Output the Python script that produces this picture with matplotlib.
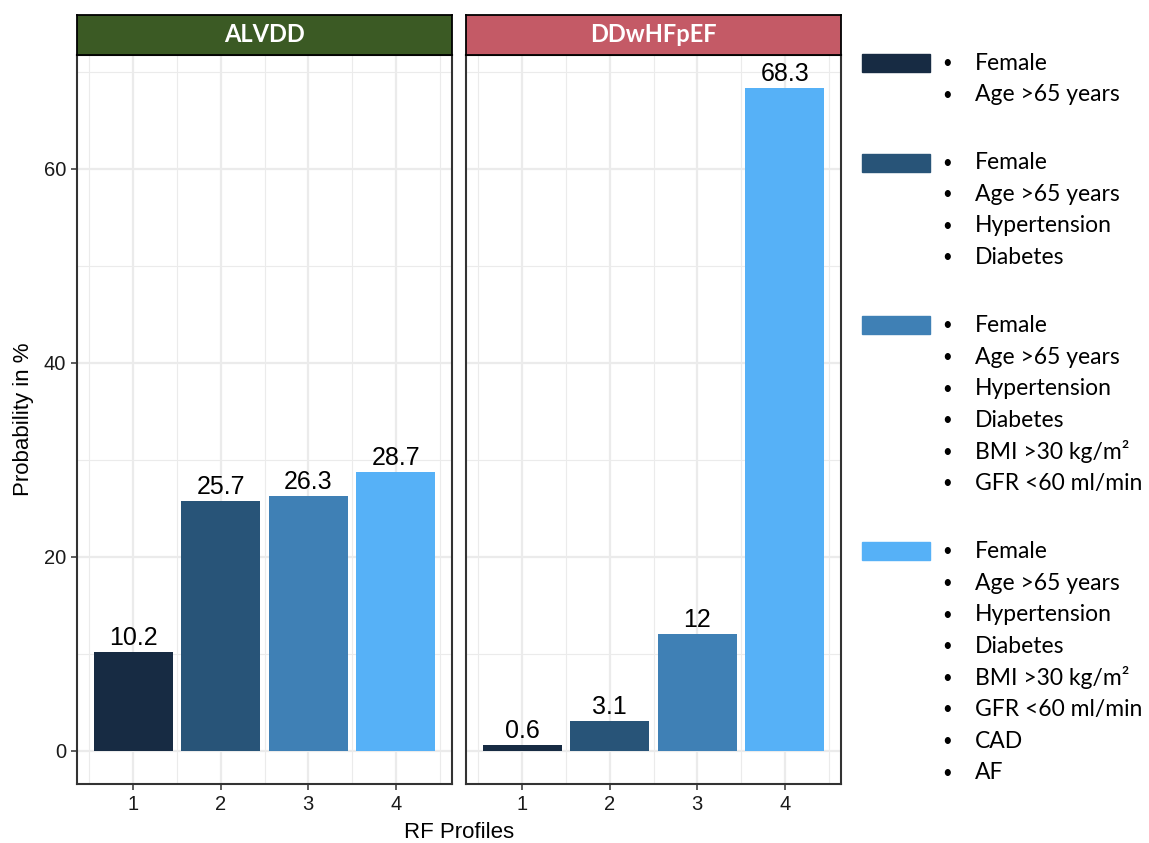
import matplotlib
matplotlib.use("Agg")
import matplotlib.pyplot as plt
from matplotlib.patches import Rectangle

# data
panels = ["ALVDD", "DDwHFpEF"]
strip_colors = ["#3B5A24", "#C45A66"]
profiles = [1, 2, 3, 4]
alvdd = [10.2, 25.7, 26.3, 28.7]
ddwhfpef = [0.6, 3.1, 12, 68.3]
alvdd_labels = ["10.2", "25.7", "26.3", "28.7"]
ddwhfpef_labels = ["0.6", "3.1", "12", "68.3"]
bar_colors = ["#172B43", "#285478", "#3F80B5", "#56B1F7"]
legend_items = [
    ["Female", "Age >65 years"],
    ["Female", "Age >65 years", "Hypertension", "Diabetes"],
    ["Female", "Age >65 years", "Hypertension", "Diabetes",
     "BMI >30 kg/m²", "GFR <60 ml/min"],
    ["Female", "Age >65 years", "Hypertension", "Diabetes",
     "BMI >30 kg/m²", "GFR <60 ml/min", "CAD", "AF"],
]

W, H = 1149, 843
fig = plt.figure(figsize=(W / 100, H / 100), dpi=100)

def fx(px):
    return px / W

def fy(py):
    return 1 - py / H

ymax = max(alvdd + ddwhfpef)
ylim = (-0.05 * ymax, ymax * 1.05)

panel_left = [77, 466]
panel_w = 375
top, bottom = 55, 784
values = [alvdd, ddwhfpef]
labels = [alvdd_labels, ddwhfpef_labels]

for i, name in enumerate(panels):
    ax = fig.add_axes([fx(panel_left[i]), fy(bottom), fx(panel_w), (bottom - top) / H])
    ax.bar(profiles, values[i], width=0.9, color=bar_colors, zorder=3)
    for x, v, lab in zip(profiles, values[i], labels[i]):
        ax.annotate(lab, (x, v), xytext=(0, 1.5), textcoords="offset points",
                    ha="center", va="bottom", fontsize=18,
                    family="Liberation Sans", color="black", zorder=4)
    ax.set_xlim(0.36, 4.64)
    ax.set_ylim(*ylim)
    ax.set_xticks(profiles)
    ax.set_xticks([0.5, 1.5, 2.5, 3.5, 4.5], minor=True)
    ax.set_yticks([0, 20, 40, 60])
    ax.set_yticks([10, 30, 50, 70], minor=True)
    ax.grid(which="major", color="#EBEBEB", linewidth=1.6, zorder=0)
    ax.grid(which="minor", color="#EBEBEB", linewidth=0.8, zorder=0)
    ax.set_axisbelow(True)
    for s in ax.spines.values():
        s.set_color("#333333")
        s.set_linewidth(1.5)
    ax.tick_params(which="minor", length=0)
    ax.tick_params(which="major", length=4, width=1.1, color="#333333",
                   labelsize=14.5, labelcolor="#1a1a1a", pad=4)
    for t in ax.get_xticklabels() + ax.get_yticklabels():
        t.set_family("Liberation Sans")
    if i == 1:
        ax.tick_params(axis="y", which="both", left=False, labelleft=False)
    else:
        ax.set_ylabel("Probability in %", fontsize=16, family="Liberation Sans",
                      labelpad=7)

    # facet strip
    sax = fig.add_axes([fx(panel_left[i]), fy(top), fx(panel_w), 40 / H])
    sax.set_facecolor(strip_colors[i])
    sax.set_xticks([])
    sax.set_yticks([])
    for s in sax.spines.values():
        s.set_color("black")
        s.set_linewidth(1.3)
    sax.text(0.5, 0.5, name, ha="center", va="center", color="white",
             fontsize=17, fontweight="bold", family="Lato",
             transform=sax.transAxes)

fig.text(fx(459), fy(832), "RF Profiles", ha="center", va="center",
         fontsize=16, family="Liberation Sans")

# custom legend
line_h = 31.6
group_gap = 68
ypos = 63
for color, items in zip(bar_colors, legend_items):
    fig.patches.append(Rectangle((fx(862), fy(ypos + 9)), fx(68), 18 / H,
                                 transform=fig.transFigure, color=color))
    for j, item in enumerate(items):
        yy = ypos + j * line_h
        fig.text(fx(947), fy(yy), "•", ha="center", va="center",
                 fontsize=12, family="Lato")
        fig.text(fx(975), fy(yy), item, ha="left", va="center",
                 fontsize=16.5, family="Lato")
    ypos = ypos + (len(items) - 1) * line_h + group_gap

fig.savefig("out.png", dpi=100)
